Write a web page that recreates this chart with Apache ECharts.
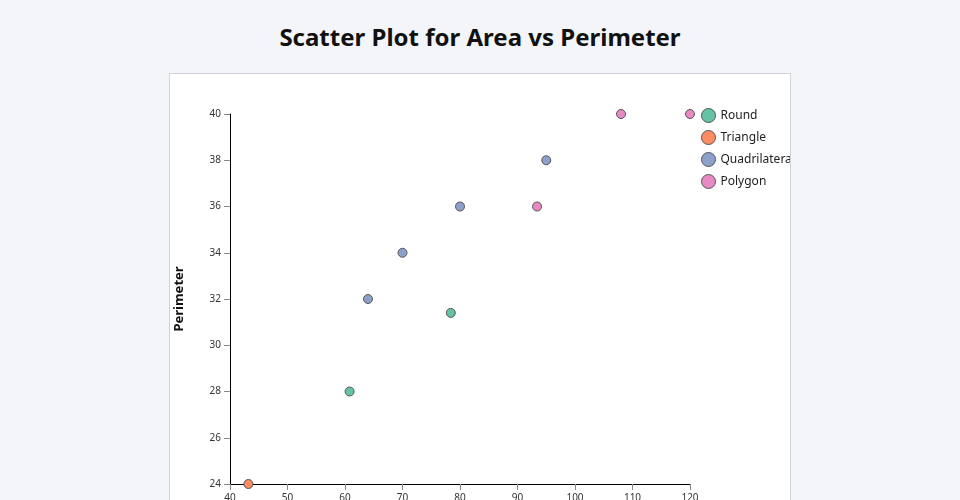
<!DOCTYPE html>
<html>
<head>
<meta charset="utf-8">
<script src="https://cdn.jsdelivr.net/npm/echarts@6/dist/echarts.min.js"></script>
<style>
  html, body { margin: 0; padding: 0; width: 960px; height: 500px; overflow: hidden; background: #f4f5f9; font-family: "Noto Sans", sans-serif; }
  #title { position: absolute; left: 0; top: 18px; width: 960px; text-align: center; font-size: 24px; font-weight: bold; color: #111; line-height: 38px; }
  #panel { position: absolute; left: 169px; top: 73px; width: 622px; height: 470px; box-sizing: border-box; border: 1px solid #cfd2d6; background: #fff; }
  #chart { width: 620px; height: 468px; }
</style>
</head>
<body>
<div id="title">Scatter Plot for Area vs Perimeter</div>
<div id="panel"><div id="chart"></div></div>
<script>
const categories = ["Round", "Triangle", "Quadrilateral", "Polygon"];
const colors = ["#66c2a5", "#fc8d62", "#8da0cb", "#e78ac3"];
const roundPoints = [[60.8, 28], [78.4, 31.4]];
const trianglePoints = [[43.2, 24]];
const quadrilateralPoints = [[64, 32], [70, 34], [80, 36], [95, 38]];
const polygonPoints = [[93.4, 36], [108, 40], [120, 40]];
const xTicks = [40, 50, 60, 70, 80, 90, 100, 110, 120];
const yTicks = [24, 26, 28, 30, 32, 34, 36, 38, 40];
const xLabel = "Area";
const yLabel = "Perimeter";

const seriesData = [roundPoints, trianglePoints, quadrilateralPoints, polygonPoints];
const chart = echarts.init(document.getElementById('chart'), null, { renderer: 'canvas' });
const font = '"Noto Sans", sans-serif';
chart.setOption({
  animation: false,
  textStyle: { fontFamily: font },
  grid: { left: 60, top: 40, width: 460, height: 370, containLabel: false, outerBoundsMode: 'none' },
  legend: {
    data: categories,
    orient: 'vertical',
    left: 526, top: 29,
    icon: 'circle',
    itemWidth: 14, itemHeight: 14, itemGap: 7,
    itemStyle: { borderColor: '#555', borderWidth: 1 },
    textStyle: { fontSize: 12, color: '#222', fontFamily: font }
  },
  xAxis: {
    type: 'value', min: xTicks[0], max: xTicks[xTicks.length - 1], interval: 10,
    name: xLabel, nameLocation: 'middle', nameGap: 36,
    nameTextStyle: { fontWeight: 'bold', fontSize: 13, color: '#111' },
    axisLine: { lineStyle: { color: '#000', width: 1 } },
    axisTick: { show: true, length: 6, lineStyle: { color: '#888' } },
    axisLabel: { fontSize: 10, color: '#333', margin: 9 },
    splitLine: { show: false }
  },
  yAxis: {
    type: 'value', min: yTicks[0], max: yTicks[yTicks.length - 1], interval: 2,
    name: yLabel, nameLocation: 'middle', nameGap: 44, nameRotate: 90,
    nameTextStyle: { fontWeight: 'bold', fontSize: 13, color: '#111' },
    axisLine: { show: true, lineStyle: { color: '#000', width: 1 } },
    axisTick: { show: true, length: 6, lineStyle: { color: '#888' } },
    axisLabel: { fontSize: 10, color: '#333', margin: 9 },
    splitLine: { show: false }
  },
  series: categories.map((c, i) => ({
    name: c, type: 'scatter', data: seriesData[i], symbolSize: 9,
    itemStyle: { color: colors[i], borderColor: '#555', borderWidth: 1, opacity: 1 }
  }))
});
</script>
</body>
</html>
